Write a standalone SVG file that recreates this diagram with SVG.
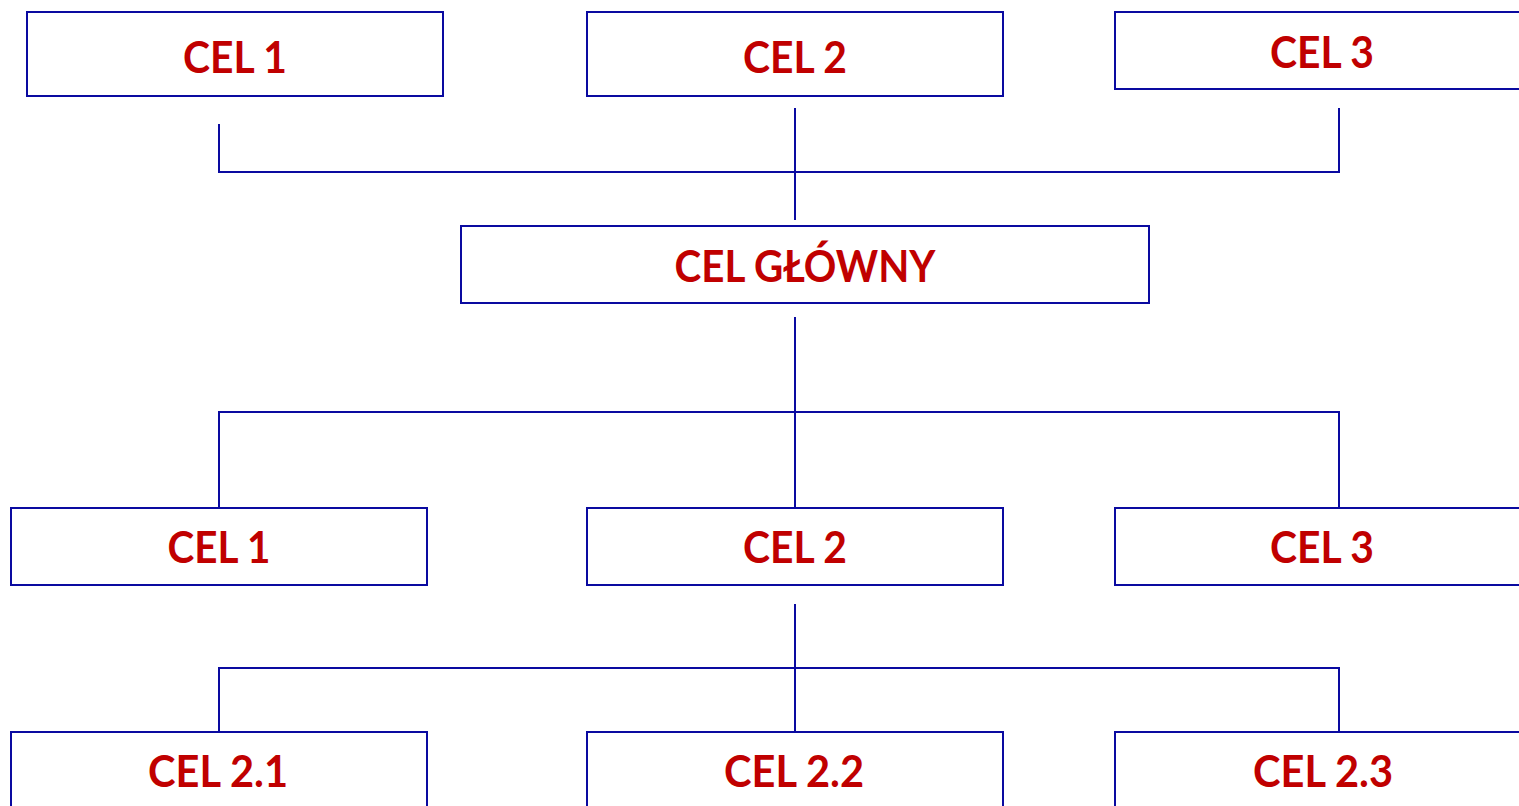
<svg xmlns="http://www.w3.org/2000/svg" width="1519" height="806" viewBox="0 0 1519 806">
<style>
.box{fill:#fff;stroke:#0A0AA0;stroke-width:2}
.lbl{font-family:Lato,"Open Sans","Liberation Sans",sans-serif;font-weight:bold;font-size:43px;fill:#C00000;text-anchor:middle}
.con{fill:none;stroke:#0A0AA0;stroke-width:2}
</style>
<rect width="1519" height="806" fill="#fff"/>
<g id="connectors">
<path class="con" d="M219,124V172H1339V108M795,108V220"/>
<path class="con" d="M795,317V508M219,508V412H1339V508"/>
<path class="con" d="M795,604V732M219,732V668H1339V732"/>
</g>
<g id="top1"><rect class="box" x="27" y="12" width="416" height="84"/><text class="lbl" x="235" y="73" textLength="104" lengthAdjust="spacingAndGlyphs">CEL 1</text></g>
<g id="top2"><rect class="box" x="587" y="12" width="416" height="84"/><text class="lbl" x="795" y="73" textLength="104" lengthAdjust="spacingAndGlyphs">CEL 2</text></g>
<g id="top3"><rect class="box" x="1115" y="12" width="416" height="77"/><text class="lbl" x="1322" y="68" textLength="104" lengthAdjust="spacingAndGlyphs">CEL 3</text></g>
<g id="main"><rect class="box" x="461" y="226" width="688" height="77"/><text class="lbl" x="805" y="282" textLength="261" lengthAdjust="spacingAndGlyphs">CEL GŁÓWNY</text></g>
<g id="mid1"><rect class="box" x="11" y="508" width="416" height="77"/><text class="lbl" x="219" y="563" textLength="103" lengthAdjust="spacingAndGlyphs">CEL 1</text></g>
<g id="mid2"><rect class="box" x="587" y="508" width="416" height="77"/><text class="lbl" x="795" y="563" textLength="104" lengthAdjust="spacingAndGlyphs">CEL 2</text></g>
<g id="mid3"><rect class="box" x="1115" y="508" width="416" height="77"/><text class="lbl" x="1322" y="563" textLength="104" lengthAdjust="spacingAndGlyphs">CEL 3</text></g>
<g id="sub1"><rect class="box" x="11" y="732" width="416" height="90"/><text class="lbl" x="218" y="787" textLength="140" lengthAdjust="spacingAndGlyphs">CEL 2.1</text></g>
<g id="sub2"><rect class="box" x="587" y="732" width="416" height="90"/><text class="lbl" x="794" y="787" textLength="140" lengthAdjust="spacingAndGlyphs">CEL 2.2</text></g>
<g id="sub3"><rect class="box" x="1115" y="732" width="416" height="90"/><text class="lbl" x="1323" y="787" textLength="140" lengthAdjust="spacingAndGlyphs">CEL 2.3</text></g>
</svg>
